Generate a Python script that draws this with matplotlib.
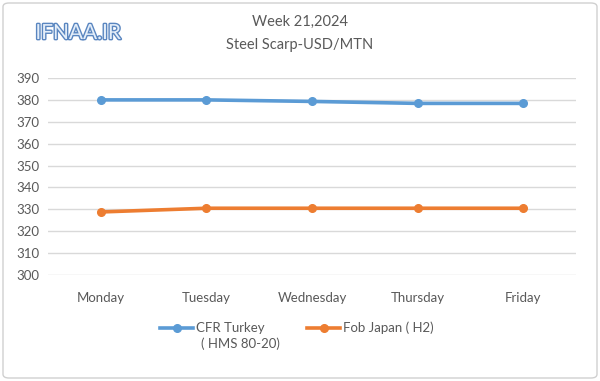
import matplotlib
matplotlib.use("Agg")
import matplotlib.pyplot as plt
import matplotlib.patheffects as pe
from matplotlib.patches import FancyBboxPatch
from matplotlib.lines import Line2D

days = ["Monday", "Tuesday", "Wednesday", "Thursday", "Friday"]
cfr_turkey = [380, 380, 379.3, 378.4, 378.4]
fob_japan = [328.8, 330.5, 330.5, 330.5, 330.5]
yticks = list(range(300, 391, 10))
series_labels = ['CFR Turkey\n( HMS 80-20)', 'Fob Japan ( H2)']
colors = ['#5b9bd5', '#ed7d31']

plt.rcParams['font.family'] = ['Lato', 'DejaVu Sans']
W, H = 600, 381
fig = plt.figure(figsize=(W/100, H/100), dpi=100)
fig.patch.set_facecolor('white')

border = FancyBboxPatch((3/W, 3/H), 1-6/W, 1-6/H, boxstyle="round,pad=0,rounding_size=0.01",
                        transform=fig.transFigure, fill=False, edgecolor='#d0d0d0', linewidth=1)
fig.patches.append(border)

ax = fig.add_axes([48/W, 1-275/H, (576-48)/W, (275-78)/H])
x = list(range(len(days)))
ax.plot(x, cfr_turkey, color=colors[0], lw=2.6, marker='o', ms=5.5)
ax.plot(x, fob_japan, color=colors[1], lw=2.6, marker='o', ms=5.5)
ax.set_xlim(-0.5, 4.5)
ax.set_ylim(300, 390)
ax.set_yticks(yticks)
ax.set_xticks(x)
ax.set_xticklabels(days)
ax.grid(axis='y', color='#d9d9d9', lw=1)
ax.set_axisbelow(True)
for s in ax.spines.values():
    s.set_visible(False)
ax.tick_params(length=0, colors='#595959', labelsize=9.5)
ax.tick_params(axis='x', pad=12)
ax.tick_params(axis='y', pad=6)

fig.text(300/W, 1-22/H, 'Week 21,2024', ha='center', va='center', fontsize=10.5, color='#595959')
fig.text(300/W, 1-45/H, 'Steel Scarp-USD/MTN', ha='center', va='center', fontsize=10.5, color='#595959')
fig.text(78/W, 1-33/H, 'IFNAA.IR', ha='center', va='center', fontsize=15, color='#e4eef9',
         path_effects=[pe.withStroke(linewidth=2, foreground='#5a86c0')])

# manual legend
legend_pos = [(160, 328), (307, 328)]
for (lx, ly), c, lab in zip(legend_pos, colors, series_labels):
    fig.add_artist(Line2D([lx/W, (lx+33)/W], [1-ly/H, 1-ly/H], color=c, lw=2.6,
                          transform=fig.transFigure))
    fig.add_artist(Line2D([(lx+16.5)/W], [1-ly/H], color=c, marker='o', ms=5.5,
                          transform=fig.transFigure))
    lines = lab.split('\n')
    fig.text((lx+36)/W, 1-ly/H, lines[0], ha='left', va='center', fontsize=9.5, color='#595959')
    if len(lines) > 1:
        fig.text((lx+41)/W, 1-(ly+16)/H, lines[1], ha='left', va='center', fontsize=9.5, color='#595959')

fig.savefig('out.png', dpi=100)
